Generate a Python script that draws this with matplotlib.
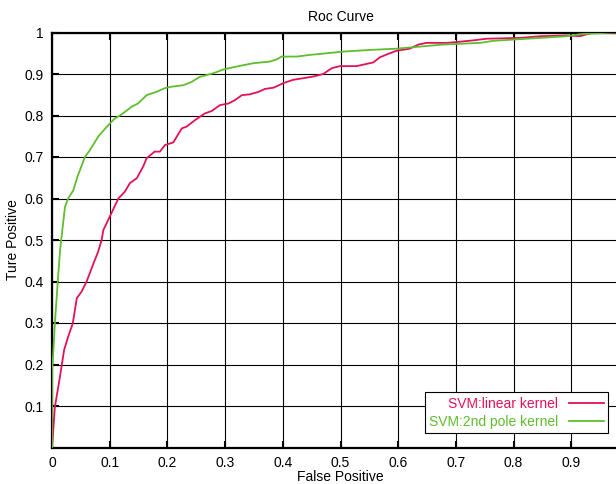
import numpy as np
from matplotlib import pyplot as plt

# ===== ROC DATA =====
fpr_linear = [0.0, 0.001, 0.005, 0.011, 0.017, 0.021, 0.028, 0.036, 0.043, 0.051, 0.060,
              0.072, 0.080, 0.086, 0.089, 0.100, 0.115, 0.126, 0.135, 0.147, 0.158, 0.164,
              0.178, 0.187, 0.196, 0.210, 0.225, 0.233, 0.248, 0.265, 0.277, 0.291, 0.306,
              0.317, 0.329, 0.343, 0.358, 0.369, 0.384, 0.401, 0.418, 0.436, 0.453, 0.470,
              0.485, 0.499, 0.528, 0.557, 0.568, 0.580, 0.597, 0.620, 0.635, 0.649, 0.684,
              0.701, 0.730, 0.753, 0.811, 0.846, 0.892, 0.915, 0.938, 1.0]
tpr_linear = [0.0, 0.018, 0.098, 0.147, 0.199, 0.235, 0.267, 0.299, 0.360, 0.375, 0.400,
              0.444, 0.472, 0.500, 0.524, 0.556, 0.600, 0.616, 0.637, 0.649, 0.677, 0.697,
              0.713, 0.713, 0.729, 0.735, 0.769, 0.773, 0.789, 0.805, 0.811, 0.825, 0.829,
              0.837, 0.849, 0.851, 0.857, 0.864, 0.867, 0.878, 0.886, 0.890, 0.894, 0.900,
              0.914, 0.919, 0.919, 0.928, 0.940, 0.947, 0.956, 0.961, 0.971, 0.975, 0.975,
              0.977, 0.981, 0.985, 0.987, 0.991, 0.993, 0.991, 1.0, 1.0]

fpr_poly = [0.0, 0.0, 0.001, 0.005, 0.010, 0.014, 0.0225, 0.028, 0.037, 0.044, 0.057, 0.066,
            0.080, 0.095, 0.109, 0.118, 0.138, 0.149, 0.164, 0.181, 0.196, 0.205, 0.228,
            0.242, 0.256, 0.280, 0.297, 0.320, 0.349, 0.378, 0.389, 0.398, 0.424, 0.447,
            0.476, 0.505, 0.551, 0.597, 0.678, 0.742, 0.765, 0.846, 0.892, 0.915, 0.972, 1.0]
tpr_poly = [0.0, 0.19, 0.20, 0.30, 0.40, 0.476, 0.580, 0.600, 0.620, 0.652, 0.700, 0.717,
            0.749, 0.773, 0.793, 0.800, 0.821, 0.829, 0.849, 0.857, 0.866, 0.869, 0.873,
            0.881, 0.893, 0.902, 0.911, 0.918, 0.926, 0.930, 0.935, 0.942, 0.942, 0.946,
            0.950, 0.954, 0.958, 0.961, 0.971, 0.975, 0.980, 0.987, 0.991, 0.996, 1.0, 1.0]

labels = ["SVM:linear kernel", "SVM:2nd pole kernel"]
colors = ["#e3105a", "#5fbd2e"]

xticks = np.arange(0, 1.01, 0.1)
yticks = np.arange(0.1, 1.01, 0.1)

plt.rcParams['font.family'] = ['Liberation Sans', 'DejaVu Sans']
plt.rcParams['font.size'] = 10

fig = plt.figure(figsize=(6.16, 4.84), dpi=100)
# right edge of the plot box falls outside the picture, as in the original
ax = fig.add_axes([52/616, 36.5/484, 577/616, 415/484])

ax.plot(fpr_linear, tpr_linear, color=colors[0], lw=1.3, label=labels[0], zorder=3)
ax.plot(fpr_poly, tpr_poly, color=colors[1], lw=1.3, label=labels[1], zorder=3)

ax.set_xlim(0, 1)
ax.set_ylim(0, 1)
ax.set_xticks(xticks)
# the "1" label sits past the cropped right edge, so leave it blank
ax.set_xticklabels([f"{v:g}" for v in np.round(xticks[:-1], 1)] + [""])
ax.set_yticks(yticks)
ax.set_yticklabels([f"{v:g}" for v in np.round(yticks, 1)])
ax.tick_params(direction="in", length=5, width=1.5, top=True, right=True, pad=6,
               labelsize=10)
ax.grid(True, color="black", lw=0.8, zorder=1)
for s in ax.spines.values():
    s.set_linewidth(1.6)

ax.set_title("Roc Curve", fontsize=10, pad=8)
ax.set_xlabel("False Positive", fontsize=10, labelpad=0)
ax.set_ylabel("Ture Positive", fontsize=10, labelpad=3)

leg = ax.legend(loc="lower right", bbox_to_anchor=(0.9636, 0.035), markerfirst=False,
                labelcolor="linecolor", fancybox=False, framealpha=1, edgecolor="black",
                handlelength=2.5, handletextpad=0.8, labelspacing=0.3, borderpad=0.3,
                borderaxespad=0, fontsize=10)
leg.get_frame().set_linewidth(0.8)

plt.savefig("out.png", dpi=100)
